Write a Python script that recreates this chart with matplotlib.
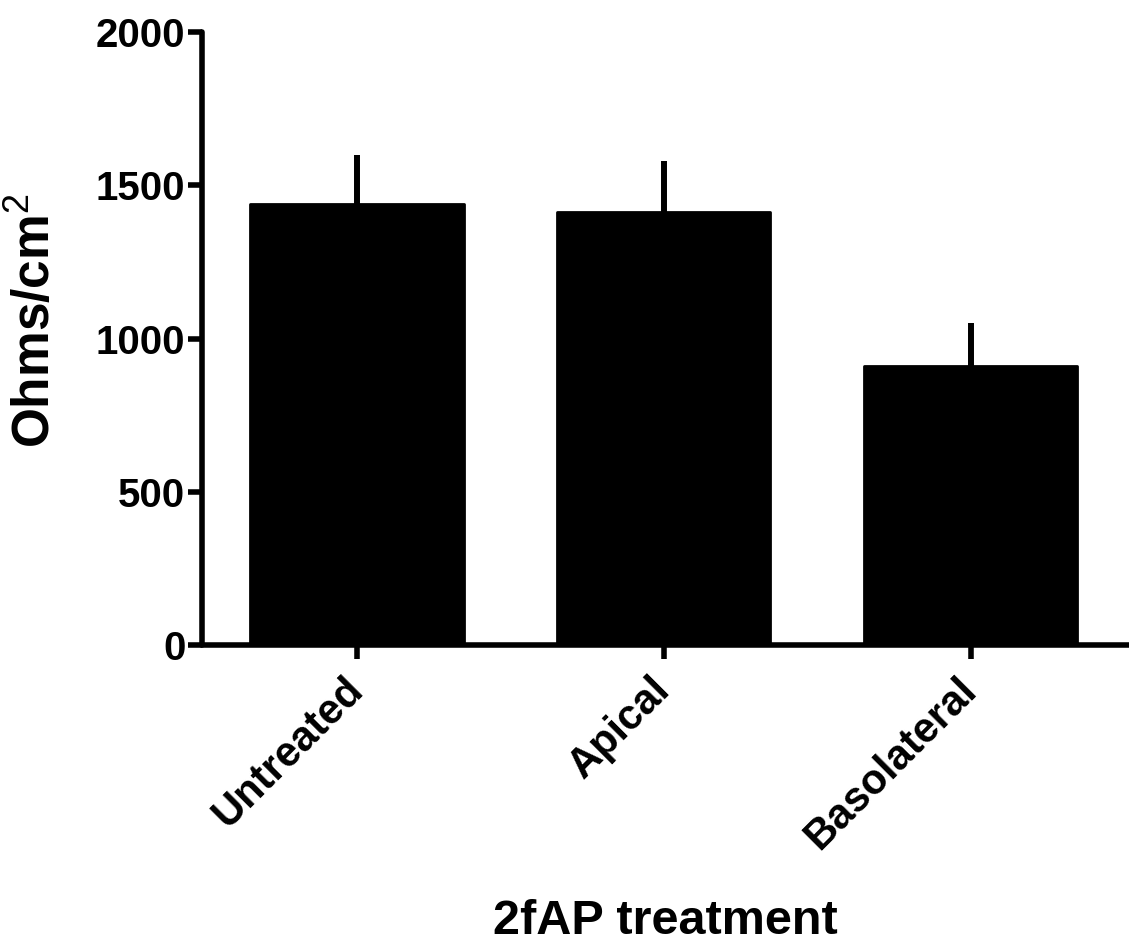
import numpy as np
import matplotlib.pyplot as plt

plt.rcParams['font.family'] = ['Liberation Sans', 'DejaVu Sans']
plt.rcParams['font.weight'] = 'bold'
plt.rcParams['mathtext.fontset'] = 'custom'
plt.rcParams['mathtext.rm'] = 'Liberation Sans:weight=normal'
plt.rcParams['mathtext.it'] = 'Liberation Sans:weight=normal'

groups = ["Untreated", "Apical", "Basolateral"]
means = [1439, 1413, 910]
sem = [160, 166, 141]

fig = plt.figure(figsize=(11.29, 9.48), dpi=100)
ax = fig.add_axes([0.1789, 0.3196, 0.8211, 0.6466])

x = np.arange(len(groups))
ax.errorbar(x, means, yerr=[np.zeros(len(sem)), sem], fmt='none', ecolor='black',
            elinewidth=4.3, capsize=0, zorder=1)
ax.bar(x, means, width=0.694, color='black', edgecolor='black', linewidth=2,
       joinstyle='round', zorder=2)

ax.set_xlim(-0.505, 2.515)
ax.set_ylim(0, 2000)
ax.set_yticks([0, 500, 1000, 1500, 2000])
ax.set_xticks(x)
ax.set_xticklabels(groups, rotation=45, ha='right', va='center', rotation_mode='anchor')

for s in ['top', 'right']:
    ax.spines[s].set_visible(False)
for s in ['left', 'bottom']:
    ax.spines[s].set_linewidth(4)
    ax.spines[s].set_capstyle('round')

ax.tick_params(axis='both', width=4, length=10, direction='out')
ax.tick_params(axis='x', labelsize=30, pad=18)
ax.tick_params(axis='y', labelsize=29, pad=2)

ax.set_ylabel("Ohms/cm$^{2}$", fontsize=37, fontweight='bold', va='center', ha='center')
ax.yaxis.set_label_coords(-0.180, 0.530)
ax.set_xlabel("2fAP treatment", fontsize=35, fontweight='bold', va='top')
ax.xaxis.set_label_coords(0.4995, -0.415)

fig.savefig("out.png", dpi=100)
